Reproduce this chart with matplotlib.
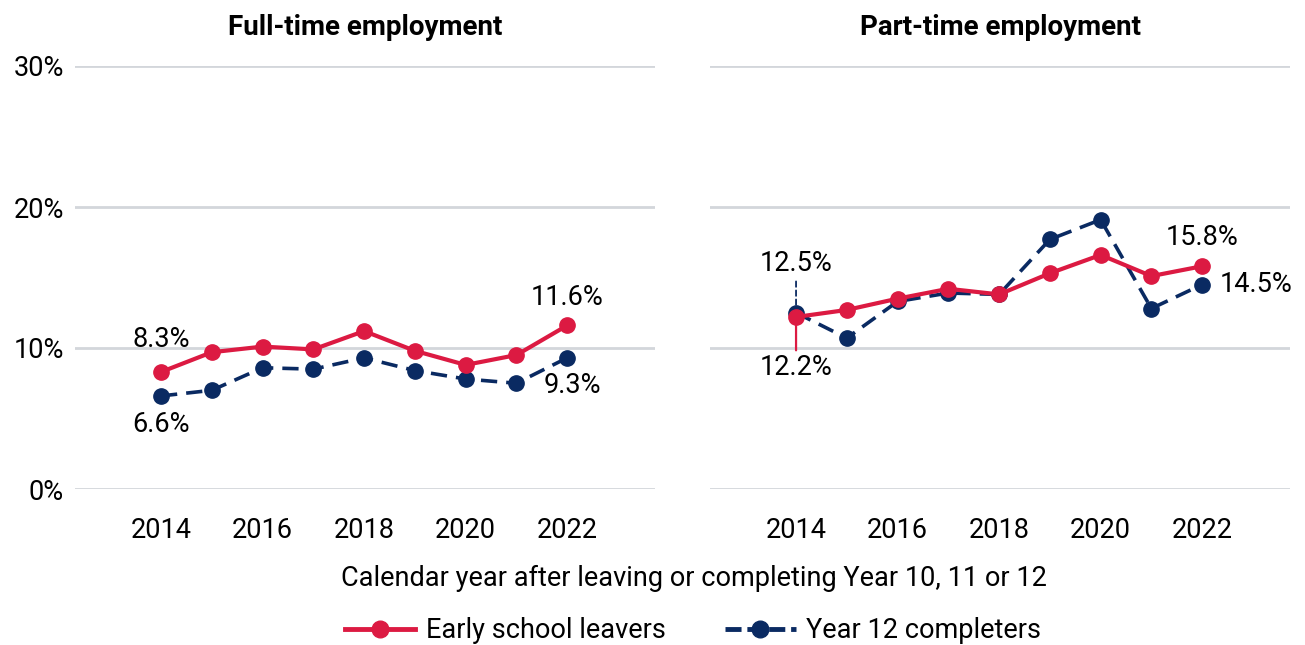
import matplotlib
matplotlib.use("Agg")
import matplotlib.pyplot as plt
from matplotlib.lines import Line2D

plt.rcParams['font.family'] = ['Roboto', 'DejaVu Sans']

years = [2014, 2015, 2016, 2017, 2018, 2019, 2020, 2021, 2022]
ft_early = [8.3, 9.7, 10.1, 9.9, 11.2, 9.8, 8.8, 9.5, 11.6]
ft_y12 = [6.6, 7.0, 8.6, 8.5, 9.3, 8.4, 7.8, 7.5, 9.3]
pt_early = [12.2, 12.7, 13.5, 14.2, 13.8, 15.3, 16.6, 15.1, 15.8]
pt_y12 = [12.5, 10.7, 13.3, 13.9, 13.8, 17.7, 19.1, 12.8, 14.5]
panel_titles = ["Full-time employment", "Part-time employment"]
yticks = [0, 10, 20, 30]
ytick_labels = ["0%", "10%", "20%", "30%"]
xticks = [2014, 2016, 2018, 2020, 2022]
series_names = ["Early school leavers", "Year 12 completers"]

RED = "#DC1A42"
NAVY = "#0A2A62"
GRID = "#D3D6DB"
FS = 19.5

W, H = 1305, 645
fig = plt.figure(figsize=(W / 100, H / 100), dpi=100)

def px_axes(x0, x1, ytop, ybot):
    return fig.add_axes([x0 / W, 1 - ybot / H, (x1 - x0) / W, (ybot - ytop) / H])

ax1 = px_axes(75, 655, 66, 489)
ax2 = px_axes(710, 1290, 66, 489)

for ax, title, early, y12 in [(ax1, panel_titles[0], ft_early, ft_y12),
                              (ax2, panel_titles[1], pt_early, pt_y12)]:
    ax.set_xlim(2012.305, 2023.73)
    ax.set_ylim(0, 30)
    for s in ax.spines.values():
        s.set_visible(False)
    ax.set_yticks(yticks)
    ax.grid(axis='y', color=GRID, linewidth=2)
    ax.set_axisbelow(True)
    ax.set_xticks(xticks)
    ax.set_xticklabels([str(x) for x in xticks])
    ax.tick_params(length=0, labelsize=FS)
    ax.tick_params(axis='x', pad=20)
    ax.tick_params(axis='y', pad=8)
    ax.plot(years, y12, color=NAVY, linestyle=(0, (4.5, 2.5)), linewidth=2.6,
            marker='o', markersize=11, clip_on=False, zorder=3)
    ax.plot(years, early, color=RED, linewidth=3, marker='o', markersize=11,
            clip_on=False, zorder=4)
    ax.set_title(title, fontsize=FS + 0.5, fontweight='bold', pad=22)

ax1.set_yticklabels(ytick_labels)
ax2.set_yticklabels([])

def lab(ax, x, y, txt, dx, dy, ha='center', **kw):
    ax.annotate(txt, (x, y), xytext=(dx, dy), textcoords='offset pixels',
                ha=ha, va='center', fontsize=FS, **kw)

# Left panel labels
lab(ax1, years[0], ft_early[0], f"{ft_early[0]}%", 0, 32)
lab(ax1, years[0], ft_y12[0], f"{ft_y12[0]}%", 0, -29)
lab(ax1, years[-1], ft_early[-1], f"{ft_early[-1]}%", 0, 28)
lab(ax1, years[-1], ft_y12[-1], f"{ft_y12[-1]}%", 5, -28)

# Right panel labels with leader lines
lab(ax2, years[0], pt_y12[0], f"{pt_y12[0]}%", 0, 49,
    arrowprops=dict(arrowstyle='-', color=NAVY, linestyle=(0, (3, 2)),
                    linewidth=1.3, shrinkA=1, shrinkB=0))
lab(ax2, years[0], pt_early[0], f"{pt_early[0]}%", 0, -51,
    arrowprops=dict(arrowstyle='-', color=RED, linewidth=1.6,
                    shrinkA=1, shrinkB=0))
lab(ax2, years[-1], pt_early[-1], f"{pt_early[-1]}%", 0, 29)
lab(ax2, years[-1], pt_y12[-1], f"{pt_y12[-1]}%", 18, 0, ha='left')

fig.text(694 / W, 1 - 578 / H, "Calendar year after leaving or completing Year 10, 11 or 12",
         ha='center', va='center', fontsize=FS)

handles = [
    Line2D([], [], color=RED, linewidth=3.5, marker='o', markersize=12),
    Line2D([], [], color=NAVY, linewidth=3.5, linestyle=(0, (3.3, 1.2)), marker='o', markersize=12),
]
fig.legend(handles, series_names, loc='center', bbox_to_anchor=(693 / W, 1 - 631 / H),
           ncol=2, frameon=False, fontsize=FS, handlelength=2.6, columnspacing=2.2,
           handletextpad=0.4)

fig.savefig("out.png", dpi=100)
